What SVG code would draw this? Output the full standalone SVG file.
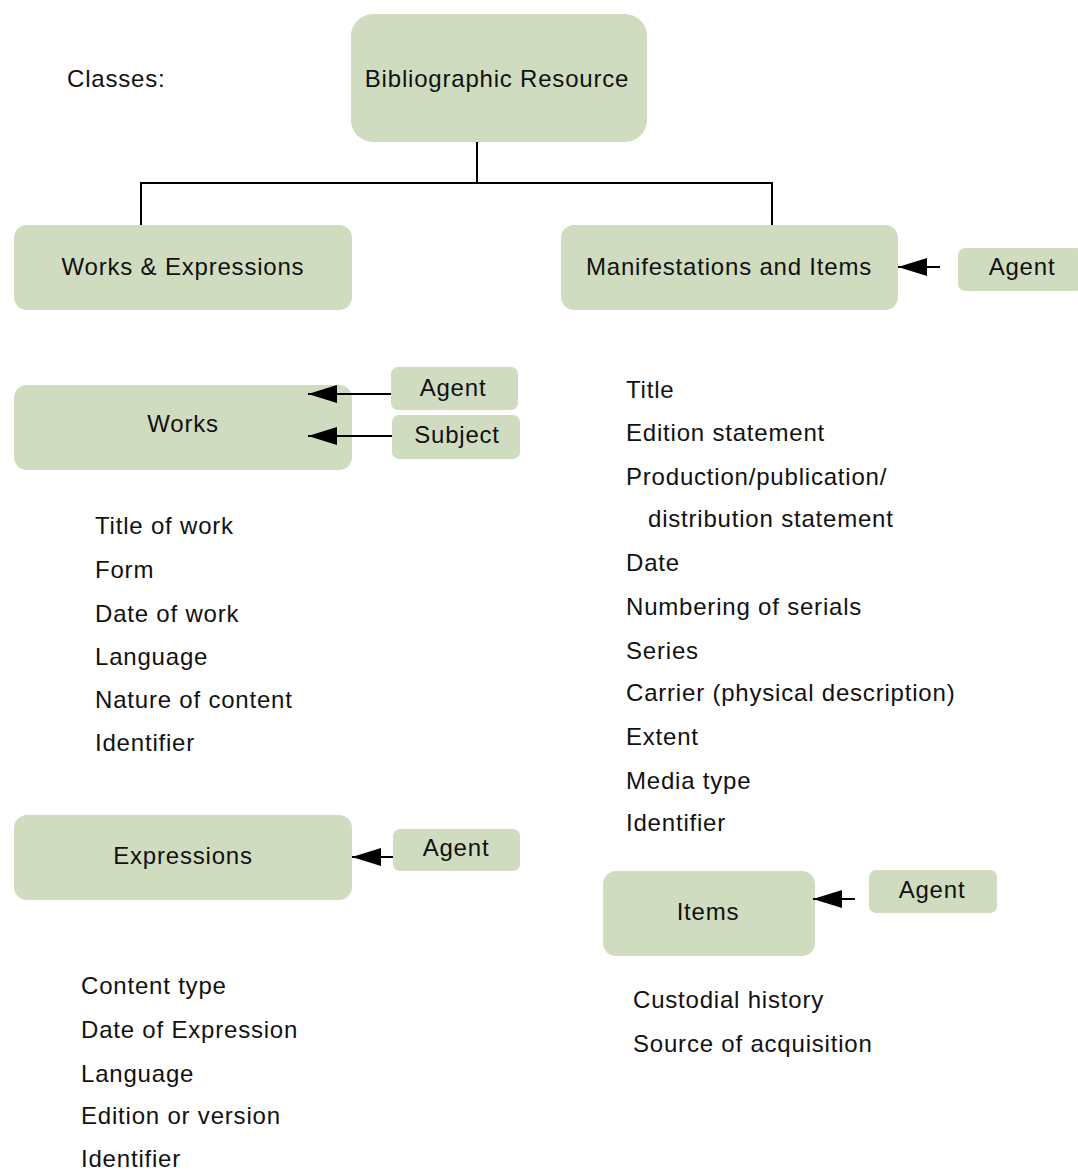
<svg xmlns="http://www.w3.org/2000/svg" width="1078" height="1170" viewBox="0 0 1078 1170">
<style>
  .box { fill: #D0DCC0; }
  text { font-family: "Liberation Sans", Arial, sans-serif; font-size: 24px; letter-spacing: 0.8px; fill: #111; }
  .c { text-anchor: middle; }
  .ln { stroke: #000; stroke-width: 2; fill: none; }
</style>
<defs>
  <marker id="ah" markerUnits="userSpaceOnUse" markerWidth="29" markerHeight="18" viewBox="0 0 29 18" refX="29" refY="9" orient="auto">
    <path d="M0,0 L29,9 L0,18 z" fill="#000"/>
  </marker>
</defs>
<rect width="1078" height="1170" fill="#fff"/>
<text x="67" y="87">Classes:</text>

<g id="bib">
  <rect class="box" x="351" y="14" width="296" height="128" rx="22"/>
  <text class="c" x="497" y="87">Bibliographic Resource</text>
</g>
<g id="worksexp">
  <rect class="box" x="14" y="225" width="338" height="85" rx="13"/>
  <text class="c" x="183" y="275">Works &amp; Expressions</text>
</g>
<g id="manif">
  <rect class="box" x="561" y="225" width="337" height="85" rx="13"/>
  <text class="c" x="729" y="275">Manifestations and Items</text>
</g>
<g id="agent-manif">
  <rect class="box" x="958" y="248" width="125" height="43" rx="7"/>
  <text class="c" x="1022" y="275">Agent</text>
</g>
<g id="works">
  <rect class="box" x="14" y="385" width="338" height="85" rx="13"/>
  <text class="c" x="183" y="432">Works</text>
</g>
<g id="agent-works">
  <rect class="box" x="391" y="367" width="127" height="43" rx="7"/>
  <text class="c" x="453" y="396">Agent</text>
</g>
<g id="subject-works">
  <rect class="box" x="392" y="415" width="128" height="44" rx="7"/>
  <text class="c" x="457" y="443">Subject</text>
</g>
<g id="expressions">
  <rect class="box" x="14" y="815" width="338" height="85" rx="13"/>
  <text class="c" x="183" y="864">Expressions</text>
</g>
<g id="agent-exp">
  <rect class="box" x="393" y="829" width="127" height="42" rx="7"/>
  <text class="c" x="456" y="856">Agent</text>
</g>
<g id="items">
  <rect class="box" x="603" y="871" width="212" height="85" rx="13"/>
  <text class="c" x="708" y="920">Items</text>
</g>
<g id="agent-items">
  <rect class="box" x="869" y="870" width="128" height="43" rx="7"/>
  <text class="c" x="932" y="898">Agent</text>
</g>

<g id="connectors">
  <path class="ln" d="M477,142 V183 M141,225 V183 H772 V225"/>
  <line class="ln" x1="940" y1="267" x2="898" y2="267" marker-end="url(#ah)"/>
  <line class="ln" x1="391" y1="394" x2="308" y2="394" marker-end="url(#ah)"/>
  <line class="ln" x1="392" y1="436" x2="308" y2="436" marker-end="url(#ah)"/>
  <line class="ln" x1="393" y1="857" x2="352" y2="857" marker-end="url(#ah)"/>
  <line class="ln" x1="855" y1="899" x2="813" y2="899" marker-end="url(#ah)"/>
</g>

<g id="works-list">
  <text x="95" y="534">Title of work</text>
  <text x="95" y="578">Form</text>
  <text x="95" y="622">Date of work</text>
  <text x="95" y="665">Language</text>
  <text x="95" y="708">Nature of content</text>
  <text x="95" y="751">Identifier</text>
</g>
<g id="manif-list">
  <text x="626" y="398">Title</text>
  <text x="626" y="441">Edition statement</text>
  <text x="626" y="485">Production/publication/</text>
  <text x="648" y="527">distribution statement</text>
  <text x="626" y="571">Date</text>
  <text x="626" y="615">Numbering of serials</text>
  <text x="626" y="659">Series</text>
  <text x="626" y="701">Carrier (physical description)</text>
  <text x="626" y="745">Extent</text>
  <text x="626" y="789">Media type</text>
  <text x="626" y="831">Identifier</text>
</g>
<g id="items-list">
  <text x="633" y="1008">Custodial history</text>
  <text x="633" y="1052">Source of acquisition</text>
</g>
<g id="exp-list">
  <text x="81" y="994">Content type</text>
  <text x="81" y="1038">Date of Expression</text>
  <text x="81" y="1082">Language</text>
  <text x="81" y="1124">Edition or version</text>
  <text x="81" y="1167">Identifier</text>
</g>
</svg>
